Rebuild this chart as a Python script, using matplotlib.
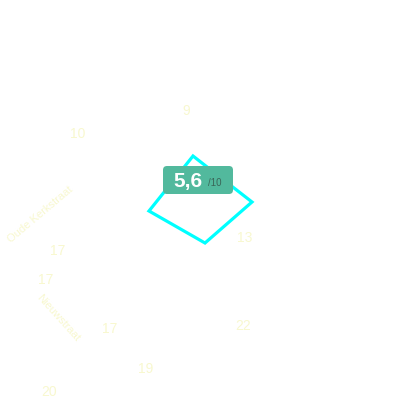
import matplotlib
matplotlib.use("Agg")
import matplotlib.pyplot as plt
from matplotlib.patches import FancyBboxPatch

plt.rcParams["font.family"] = ["Liberation Sans", "DejaVu Sans"]

# Data (map pixel coordinates)
poly_x = [193, 252, 205, 149]
poly_y = [156, 202, 243, 211]
score = "5,6"
score_max = "/10"
house_numbers = ["9", "10", "17", "17", "17", "19", "20", "22", "13"]
house_x = [186, 78, 58, 46, 110, 146, 49, 243, 245]
house_y = [111, 134, 251, 280, 329, 369, 392, 326, 238]
streets = ["Oude Kerkstraat", "Nieuwstraat"]
street_x = [40, 58]
street_y = [215, 318]
street_rot = [40, -48]

fig = plt.figure(figsize=(4, 4), dpi=100)
ax = fig.add_axes([0, 0, 1, 1])
ax.set_xlim(0, 400)
ax.set_ylim(400, 0)
ax.axis("off")

label_col = "#f8f8cf"
for t, x, y in zip(house_numbers, house_x, house_y):
    ax.text(x, y, t, color=label_col, fontsize=10, ha="center", va="center")
for t, x, y, r in zip(streets, street_x, street_y, street_rot):
    ax.text(x, y, t, color=label_col, fontsize=8, ha="center", va="center",
            rotation=r, rotation_mode="anchor")

ax.fill(poly_x, poly_y, facecolor="none", edgecolor="#00ffff", linewidth=2.3,
        joinstyle="miter")

box = FancyBboxPatch((163, 166), 70, 28, boxstyle="round,pad=0,rounding_size=4",
                     facecolor="#52b99d", edgecolor="none", zorder=5)
ax.add_patch(box)
ax.text(188, 181.5, score, color="white", fontsize=15, fontweight="bold",
        ha="center", va="center", zorder=6)
ax.text(208, 183, score_max, color="#3a6658", fontsize=7,
        ha="left", va="center", zorder=6)

fig.savefig("out.png", dpi=100)
